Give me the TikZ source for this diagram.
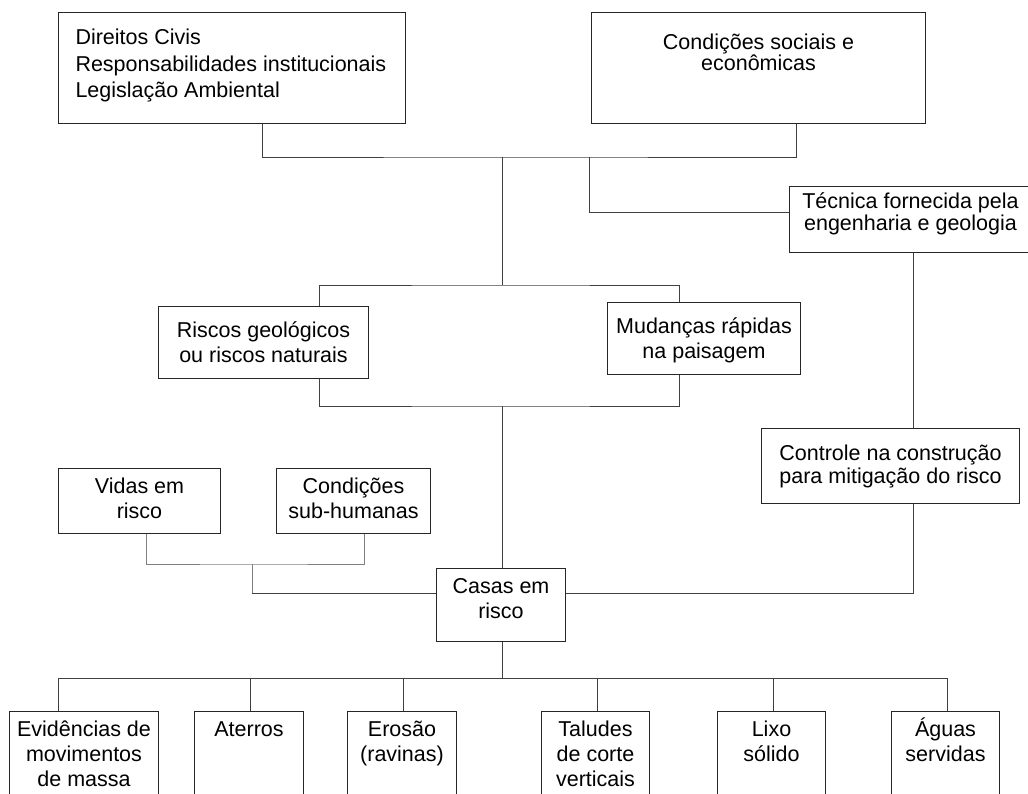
\documentclass[tikz,border=0pt]{standalone}
\usepackage{fontspec}
\setmainfont{Liberation Sans}

% width, height, top gap, text
\newcommand{\caixa}[4]{\parbox[t][#2pt][t]{#1pt}{\centering\vspace*{#3pt}\hbox{}#4}}

\begin{document}
\begin{tikzpicture}
    [
        x = 1pt, y = -1pt,
        box/.style = {draw = black!85, line width = 1pt, inner sep = 0pt, anchor = north west,
                      font = \fontsize{21.5}{25}\selectfont},
        linha/.style = {draw = black!75, line width = 1pt},
        linhaclara/.style = {draw = black!50, line width = 1pt}
    ]

    \path[use as bounding box, clip] (0,0) rectangle (1028,793);

    % top level
    \node[box, font = \fontsize{21.5}{26.5}\selectfont] (dir) at (58,12)
        {\parbox[t][111pt][t]{347pt}{\vspace*{5.5pt}\hbox{}\leftskip=17pt
         Direitos Civis\\Responsabilidades institucionais\\Legislação Ambiental}};
    \node[box, font = \fontsize{21.5}{21}\selectfont] (soc) at (591,12)
        {\caixa{334}{111}{16}{Condições sociais e\\econômicas}};
    \node[box, font = \fontsize{21.5}{22}\selectfont] (tec) at (789,186)
        {\caixa{242}{66}{0}{Técnica fornecida pela\\engenharia e geologia}};

    % middle
    \node[box] (risc) at (158,306) {\caixa{210}{72}{6}{Riscos geológicos\\ou riscos naturais}};
    \node[box] (mud) at (607,302) {\caixa{193}{72}{6}{Mudanças rápidas\\na paisagem}};
    \node[box, font = \fontsize{21.5}{23}\selectfont] (ctrl) at (761,428)
        {\caixa{258}{75}{9}{Controle na construção\\para mitigação do risco}};
    \node[box] (vid) at (58,468) {\caixa{162}{65}{0}{Vidas em\\risco}};
    \node[box] (cond) at (276,468) {\caixa{154}{65}{0}{Condições\\sub-humanas}};
    \node[box] (casas) at (436,568) {\caixa{129}{73}{0}{Casas em\\risco}};

    % bottom row
    \node[box] (evid) at (9,711) {\caixa{149}{90}{0}{Evidências de\\movimentos\\de massa}};
    \node[box] (ater) at (194,711) {\caixa{109}{90}{0}{Aterros}};
    \node[box] (eros) at (347,711) {\caixa{109}{90}{0}{Erosão\\(ravinas)}};
    \node[box] (talu) at (541,711) {\caixa{108}{90}{0}{Taludes\\de corte\\verticais}};
    \node[box] (lixo) at (717,711) {\caixa{108}{90}{0}{Lixo\\sólido}};
    \node[box] (agua) at (891,711) {\caixa{108}{90}{0}{Águas\\servidas}};

    \coordinate (jtopo) at (502,157);
    \coordinate (jmeio) at (502,285);
    \coordinate (jbaixo) at (502,406);
    \coordinate (jesq) at (252,564);
    \coordinate (jcasa) at (252,593);
    \coordinate (jdir) at (913,593);
    \coordinate (jfim) at (502,678);

    \draw[linha] (262,0 |- dir.south) |- (jtopo) -| (796,0 |- soc.south);
    \draw[linha] (589,0 |- jtopo) |- (tec.west |- 0,212);
    \draw[linha] (jtopo) -- (jmeio);
    \draw[linha] (319,0 |- risc.north) |- (jmeio) -| (679,0 |- mud.north);
    \draw[linha] (319,0 |- risc.south) |- (jbaixo) -| (679,0 |- mud.south);
    \draw[linha] (jbaixo) -- (jbaixo |- casas.north);
    \draw[linha] (913,0 |- tec.south) -- (913,0 |- ctrl.north);
    \draw[linha] (913,0 |- ctrl.south) -- (jdir) -- (jdir -| casas.east);
    \draw[linhaclara] (146,0 |- vid.south) |- (jesq) -| (364,0 |- cond.south);
    \draw[linhaclara] (jesq) -- (jcasa);
    \draw[linha] (jcasa) -- (jcasa -| casas.west);
    \draw[linha] (jfim |- casas.south) -- (jfim);
    \draw[linha] (58,0 |- jfim) -- (947,0 |- jfim);
    \foreach \n/\x in {evid/58, ater/250, eros/403, talu/597, lixo/773, agua/947}
        \draw[linha] (\x,0 |- jfim) -- (\x,0 |- \n.north);
\end{tikzpicture}
\end{document}
